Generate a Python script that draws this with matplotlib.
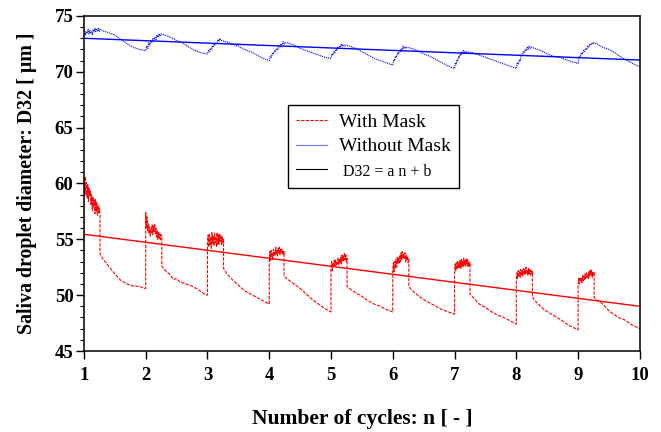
import numpy as np
import matplotlib
matplotlib.use("Agg")
import matplotlib.pyplot as plt
from matplotlib.ticker import MultipleLocator
from matplotlib.lines import Line2D

# ---------------- data ----------------
cycles = [1, 2, 3, 4, 5, 6, 7, 8, 9]

# With mask: noisy plateau after each cycle start, then drop and decay
red_start = 52.2
red_plateau_end = [1.26, 2.26, 3.26, 4.24, 5.26, 6.26, 7.25, 8.26, 9.26]
red_plateau = [
    [60.4, 59.2, 60.6, 59.0, 60.1, 58.7, 59.9, 58.4, 59.6, 58.9, 59.3, 58.1, 59.0,
     57.6, 58.8, 57.9, 58.5, 57.3, 58.6, 57.5, 58.3, 57.1, 58.0, 57.4, 57.8, 57.2],
    [57.4, 56.0, 57.0, 55.8, 56.4, 55.5, 56.1, 55.3, 55.9, 55.6, 56.3, 55.4, 56.2,
     55.7, 56.4, 55.5, 56.0, 55.2, 55.8, 55.0, 55.6, 55.1, 55.5, 55.0, 55.4, 55.2],
    [54.6, 55.4, 54.3, 55.5, 54.5, 55.2, 54.2, 55.6, 54.6, 55.3, 54.4, 55.5, 54.7,
     55.2, 54.3, 55.6, 54.5, 55.4, 54.6, 55.5, 54.8, 55.3, 54.5, 55.2, 54.7, 55.0],
    [53.0, 53.9, 53.1, 54.0, 53.4, 53.8, 53.2, 54.1, 53.5, 53.9, 53.6, 54.3, 53.7,
     54.0, 53.5, 54.2, 53.8, 54.3, 53.6, 54.1, 53.8, 54.2, 53.7, 54.0, 53.6, 53.9],
    [52.4, 53.0, 52.2, 52.9, 52.5, 53.1, 52.6, 53.2, 52.7, 53.0, 52.8, 53.3, 52.7,
     53.2, 52.9, 53.4, 52.8, 53.6, 53.0, 53.5, 53.1, 53.8, 53.2, 53.6, 53.0, 53.3],
    [52.3, 52.9, 52.1, 53.0, 52.4, 53.2, 52.5, 53.4, 52.8, 53.3, 52.9, 53.6, 53.0,
     53.8, 53.2, 53.9, 53.3, 53.7, 53.2, 53.8, 53.0, 53.6, 53.1, 53.5, 52.9, 53.2],
    [52.0, 52.8, 52.2, 52.9, 52.3, 53.0, 52.4, 52.9, 52.5, 53.1, 52.4, 53.2, 52.6,
     53.0, 52.5, 53.3, 52.7, 53.1, 52.6, 53.3, 52.8, 53.2, 52.5, 53.0, 52.6, 52.9],
    [51.4, 52.0, 51.5, 52.2, 51.7, 52.1, 51.6, 52.3, 51.8, 52.2, 51.7, 52.4, 51.9,
     52.3, 51.8, 52.5, 51.9, 52.2, 51.8, 52.4, 51.9, 52.3, 51.8, 52.2, 51.9, 52.1],
    [50.8, 51.5, 51.0, 51.6, 51.2, 51.5, 51.1, 51.8, 51.3, 51.7, 51.4, 51.9, 51.5,
     52.0, 51.6, 51.9, 51.5, 52.1, 51.7, 52.3, 51.8, 52.2, 51.6, 52.1, 51.8, 52.0],
]
red_decay_n = [
    [1.26, 1.30, 1.40, 1.50, 1.60, 1.70, 1.80, 1.90, 1.97, 2.00],
    [2.26, 2.30, 2.38, 2.45, 2.50, 2.55, 2.65, 2.75, 2.85, 2.95, 3.00],
    [3.26, 3.30, 3.40, 3.50, 3.60, 3.70, 3.80, 3.90, 4.00],
    [4.24, 4.28, 4.40, 4.50, 4.60, 4.70, 4.80, 4.90, 5.00],
    [5.26, 5.30, 5.40, 5.50, 5.60, 5.70, 5.80, 5.90, 6.00],
    [6.26, 6.30, 6.40, 6.50, 6.60, 6.70, 6.80, 6.90, 7.00],
    [7.25, 7.30, 7.40, 7.50, 7.60, 7.70, 7.80, 7.90, 8.00],
    [8.26, 8.30, 8.45, 8.60, 8.72, 8.85, 9.00],
    [9.26, 9.30, 9.40, 9.50, 9.60, 9.65, 9.75, 9.85, 10.00],
]
red_decay_d = [
    [53.7, 53.3, 52.6, 51.9, 51.3, 51.0, 50.8, 50.8, 50.6, 50.6],
    [52.6, 52.3, 51.9, 51.4, 51.5, 51.2, 51.0, 50.8, 50.5, 50.1, 50.0],
    [52.4, 52.0, 51.4, 50.9, 50.4, 50.1, 49.8, 49.5, 49.2],
    [51.7, 51.5, 51.0, 50.6, 50.1, 49.6, 49.2, 48.8, 48.5],
    [50.8, 50.6, 50.2, 49.9, 49.5, 49.2, 49.0, 48.7, 48.5],
    [50.8, 50.5, 50.0, 49.6, 49.3, 49.0, 48.7, 48.5, 48.3],
    [50.1, 49.8, 49.2, 48.9, 48.5, 48.2, 48.0, 47.7, 47.4],
    [49.9, 49.5, 48.7, 48.2, 47.8, 47.3, 46.9],
    [49.8, 49.6, 49.2, 48.6, 48.2, 48.0, 47.8, 47.4, 47.0],
]

# Without mask: noisy rise after each cycle start, then slow decay
blue_rise_end = [1.26, 2.25, 3.23, 4.26, 5.23, 6.23, 7.20, 8.24, 9.26]
blue_rise = [
    [73.4, 73.7, 73.3, 73.6, 73.5, 73.8, 73.4, 73.7, 73.5, 73.6, 73.3, 73.8, 73.6,
     73.9, 73.6, 73.8, 73.7, 73.9, 73.6, 73.8],
    [71.9, 72.3, 72.1, 72.6, 72.4, 72.8, 72.6, 73.0, 72.8, 73.1, 72.9, 73.3, 73.1, 73.4, 73.2, 73.4],
    [71.6, 71.9, 71.8, 72.1, 72.0, 72.3, 72.2, 72.5, 72.4, 72.6, 72.5, 72.9, 72.7, 73.0, 72.8, 72.8],
    [71.0, 71.4, 71.3, 71.7, 71.6, 71.9, 71.8, 72.1, 72.0, 72.3, 72.2, 72.5, 72.4, 72.7, 72.5, 72.6],
    [71.2, 71.6, 71.5, 71.8, 71.7, 72.0, 71.9, 72.2, 72.1, 72.3, 72.2, 72.5, 72.3, 72.4, 72.3, 72.4],
    [70.6, 71.1, 71.0, 71.4, 71.3, 71.7, 71.6, 71.9, 71.8, 72.1, 72.0, 72.3, 72.1, 72.2, 72.1, 72.2],
    [70.3, 70.8, 70.7, 71.1, 71.0, 71.4, 71.3, 71.6, 71.5, 71.8, 71.7, 71.9, 71.7, 71.8, 71.7, 71.8],
    [70.3, 70.8, 70.7, 71.1, 71.0, 71.5, 71.4, 71.8, 71.7, 72.0, 71.9, 72.2, 72.0, 72.3, 72.1, 72.2],
    [70.8, 71.4, 71.3, 71.7, 71.6, 71.9, 71.8, 72.1, 72.0, 72.3, 72.2, 72.5, 72.4, 72.6, 72.5, 72.6],
]
blue_decay_n = [
    [1.30, 1.40, 1.50, 1.60, 1.70, 1.80, 1.90, 2.00],
    [2.30, 2.40, 2.50, 2.60, 2.70, 2.80, 2.90, 3.00],
    [3.30, 3.40, 3.50, 3.60, 3.70, 3.80, 3.90, 4.00],
    [4.30, 4.40, 4.50, 4.60, 4.70, 4.80, 4.90, 5.00],
    [5.30, 5.40, 5.50, 5.60, 5.70, 5.80, 5.90, 6.00],
    [6.30, 6.40, 6.50, 6.60, 6.70, 6.80, 6.90, 7.00],
    [7.30, 7.40, 7.50, 7.60, 7.70, 7.80, 7.90, 8.00],
    [8.30, 8.40, 8.50, 8.60, 8.70, 8.80, 8.90, 9.00],
    [9.30, 9.40, 9.50, 9.60, 9.70, 9.80, 9.90, 10.00],
]
blue_decay_d = [
    [73.7, 73.5, 73.3, 72.9, 72.5, 72.2, 72.0, 71.9],
    [73.3, 73.1, 72.8, 72.6, 72.2, 71.9, 71.7, 71.6],
    [72.7, 72.5, 72.3, 72.0, 71.8, 71.5, 71.2, 71.0],
    [72.6, 72.4, 72.1, 71.9, 71.7, 71.5, 71.3, 71.2],
    [72.3, 72.1, 71.8, 71.5, 71.2, 71.0, 70.8, 70.6],
    [72.1, 71.9, 71.6, 71.4, 71.1, 70.8, 70.5, 70.3],
    [71.7, 71.5, 71.3, 71.1, 70.9, 70.7, 70.5, 70.3],
    [72.1, 71.9, 71.6, 71.4, 71.3, 71.1, 70.9, 70.75],
    [72.5, 72.2, 72.0, 71.7, 71.3, 71.0, 70.7, 70.45],
]

# Linear fits D32 = a n + b
fit_n = [1, 10]
red_a, red_b = -0.717, 56.17
blue_a, blue_b = -0.2167, 73.22

x_ticks = [1, 2, 3, 4, 5, 6, 7, 8, 9, 10]
y_ticks = [45, 50, 55, 60, 65, 70, 75]

# ---------------- assemble series ----------------
red_n, red_d = [1.0], [red_start]
for k, c in enumerate(cycles):
    vals = red_plateau[k]
    red_n += list(np.linspace(c, red_plateau_end[k], len(vals)))
    red_d += vals
    red_n += red_decay_n[k]
    red_d += red_decay_d[k]

blue_n, blue_d = [], []
for k, c in enumerate(cycles):
    vals = blue_rise[k]
    blue_n += list(np.linspace(c, blue_rise_end[k], len(vals)))
    blue_d += vals
    blue_n += blue_decay_n[k]
    blue_d += blue_decay_d[k]

fit_n = np.array(fit_n, dtype=float)

# ---------------- plot ----------------
plt.rcParams['font.family'] = ['Liberation Serif', 'DejaVu Serif']
fig = plt.figure(figsize=(6.61, 4.32), dpi=100)
ax = fig.add_axes([0.127, 0.1875, 0.841, 0.7755])

ax.plot(red_n, red_d, color='#ff0000', lw=0.8, ls=(0, (3, 1.2)))
ax.plot(blue_n, blue_d, color='#0000ff', lw=0.8, ls=(0, (1, 0.8)))
ax.plot(fit_n, red_a * fit_n + red_b, color='#ff0000', lw=1.0)
ax.plot(fit_n, blue_a * fit_n + blue_b, color='#0000ff', lw=1.0)

ax.set_xlim(1, 10)
ax.set_ylim(45, 75)
ax.set_xticks(x_ticks)
ax.set_yticks(y_ticks)
ax.yaxis.set_minor_locator(MultipleLocator(1))
ax.tick_params(axis='both', which='major', direction='out', length=5.5, width=1,
               labelsize=13.5)
ax.tick_params(axis='y', which='minor', direction='out', length=3, width=0.8)
for lab in ax.get_xticklabels() + ax.get_yticklabels():
    lab.set_fontweight('bold')
ax.tick_params(axis='x', pad=6)
ax.tick_params(axis='y', pad=2)
for s in ax.spines.values():
    s.set_linewidth(1.1)

ax.set_xlabel('Number of cycles: n [ - ]', fontsize=15.5, fontweight='bold', labelpad=18)
ax.set_ylabel('Saliva droplet diameter: D32 [ µm ]', fontsize=14.3, fontweight='bold', labelpad=13)

handles = [
    Line2D([], [], color='#ff0000', lw=0.8, ls=(0, (3, 1.2))),
    Line2D([], [], color='#0000ff', lw=0.8, ls=(0, (1, 0.8))),
    Line2D([], [], color='black', lw=0.8),
]
labels = ['With Mask', 'Without Mask', ' D32 = a n + b']
leg = ax.legend(handles, labels, loc='upper left', bbox_to_anchor=(0.367, 0.734),
                fontsize=14, frameon=True, fancybox=False, edgecolor='black',
                handlelength=1.6, handletextpad=0.6, borderpad=0.42,
                labelspacing=0.36, borderaxespad=0)
leg.get_texts()[2].set_fontsize(11.5)
leg.get_frame().set_linewidth(1.0)
leg.get_frame().set_alpha(1)

fig.savefig('out.png', dpi=100)
